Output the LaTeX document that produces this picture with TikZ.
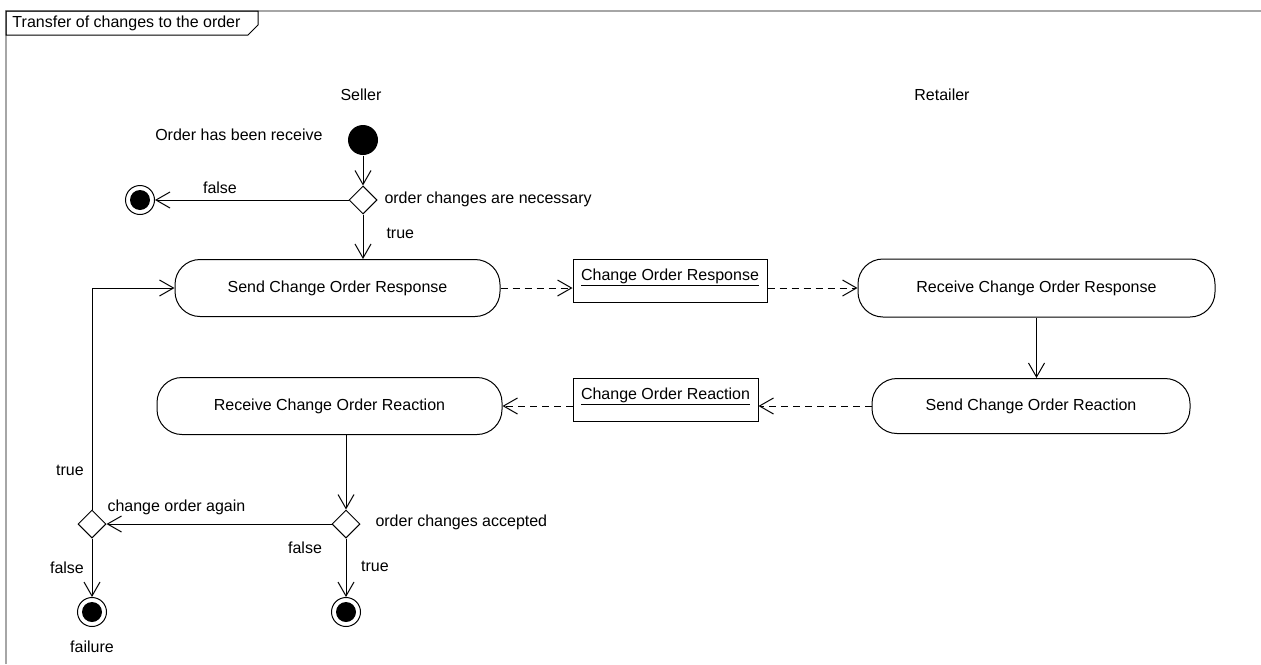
\documentclass[tikz,border=0pt]{standalone}
\usepackage{fontspec}
\setmainfont{Liberation Sans}
\usetikzlibrary{arrows.meta,shapes.geometric}
\begin{document}
\begin{tikzpicture}[x=1pt,y=-1pt,
  font=\fontsize{16}{19}\selectfont, line width=1pt,
  flow/.style={-{Straight Barb[length=14pt,width=16pt]}},
  objflow/.style={flow, dash pattern=on 7pt off 5pt},
  action/.style={draw, rectangle, rounded corners=25pt, inner sep=0pt},
  objbox/.style={draw, rectangle, inner sep=0pt},
  decision/.style={draw, diamond, minimum size=28pt, inner sep=0pt},
  initial/.style={circle, fill, minimum size=30pt, inner sep=0pt},
  final/.style={circle, draw, minimum size=29pt, inner sep=0pt,
    path picture={\fill (path picture bounding box.center) circle (10pt);}},
  lbl/.style={inner sep=0pt}]

\useasboundingbox (0,0) rectangle (1261,664);
\fill[white] (0,0) rectangle (1261,664);

% frame and its name tab
\draw[gray!70, line width=1.5pt] (6,664) -- (6,11) -- (1261,11);
\draw (6,11) -- (258,11) -- (258,25) -- (248,35) -- (6,35) -- cycle;
\node[lbl, anchor=west] (title) at (12,23) {Transfer of changes to the order};

% partition names
\node[lbl] (seller) at (361,95) {Seller};
\node[lbl] (retailer) at (942,95) {Retailer};

% start and first decision
\node[initial] (init) at (363,140) {};
\node[lbl, anchor=east] (initlbl) at (323,135) {Order has been receive};
\node[decision] (d1) at (363,200) {};
\node[lbl, anchor=west] (d1lbl) at (384,199) {order changes are necessary};
\node[final] (f1) at (140,200) {};

% actions
\node[action, minimum width=325pt, minimum height=57pt] (send) at (337.5,288) {Send Change Order Response};
\node[action, minimum width=357pt, minimum height=58pt] (rcv) at (1036.5,288) {Receive Change Order Response};
\node[action, minimum width=318pt, minimum height=55pt] (sndR) at (1031,406) {Send Change Order Reaction};
\node[action, minimum width=345pt, minimum height=57pt] (rcvR) at (329.5,406) {Receive Change Order Reaction};

% objects
\node[objbox, minimum width=194pt, minimum height=43pt] (cor) at (670,280.5) {};
\node[lbl] (cortext) at (670,277) {\underline{Change Order Response}};
\node[objbox, minimum width=185pt, minimum height=43pt] (corR) at (665.5,399.5) {};
\node[lbl] (corRtext) at (665.5,396) {\underline{Change Order Reaction}};

% lower decisions and ends
\node[decision] (d2) at (346,524) {};
\node[lbl, anchor=west] (d2lbl) at (375,522) {order changes accepted};
\node[decision] (d3) at (92,524) {};
\node[lbl, anchor=west] (d3lbl) at (107,507) {change order again};
\node[final] (f2) at (346,612) {};
\node[final] (f3) at (92,612) {};
\node[lbl] (faillbl) at (92,647) {failure};

% guards
\node[lbl] (g1) at (220,188) {false};
\node[lbl, anchor=west] (g2) at (386,233) {true};
\node[lbl] (g3) at (305,548) {false};
\node[lbl] (g4) at (375,566) {true};
\node[lbl] (g5) at (70,470) {true};
\node[lbl] (g6) at (67,568) {false};

% control flows
\draw[flow] (init) -- (d1);
\draw[flow] (d1.west) -- (f1.east);
\draw[flow] (d1.south) -- (d1.south |- send.north);
\draw[flow] (rcv.south) -- (rcv.south |- sndR.north);
\draw[flow] (d2.north |- rcvR.south) -- (d2.north);
\draw[flow] (d2.west) -- (d3.east);
\draw[flow] (d2.south) -- (f2.north);
\draw[flow] (d3.south) -- (f3.north);
\draw[flow] (d3.north) |- (send.west);

% object flows
\draw[objflow] (send.east) -- (send.east -| cor.west);
\draw[objflow] (cor.east |- send.east) -- (rcv.west);
\draw[objflow] (sndR.west) -- (sndR.west -| corR.east);
\draw[objflow] (corR.west |- sndR.west) -- (rcvR.east);
\end{tikzpicture}
\end{document}
